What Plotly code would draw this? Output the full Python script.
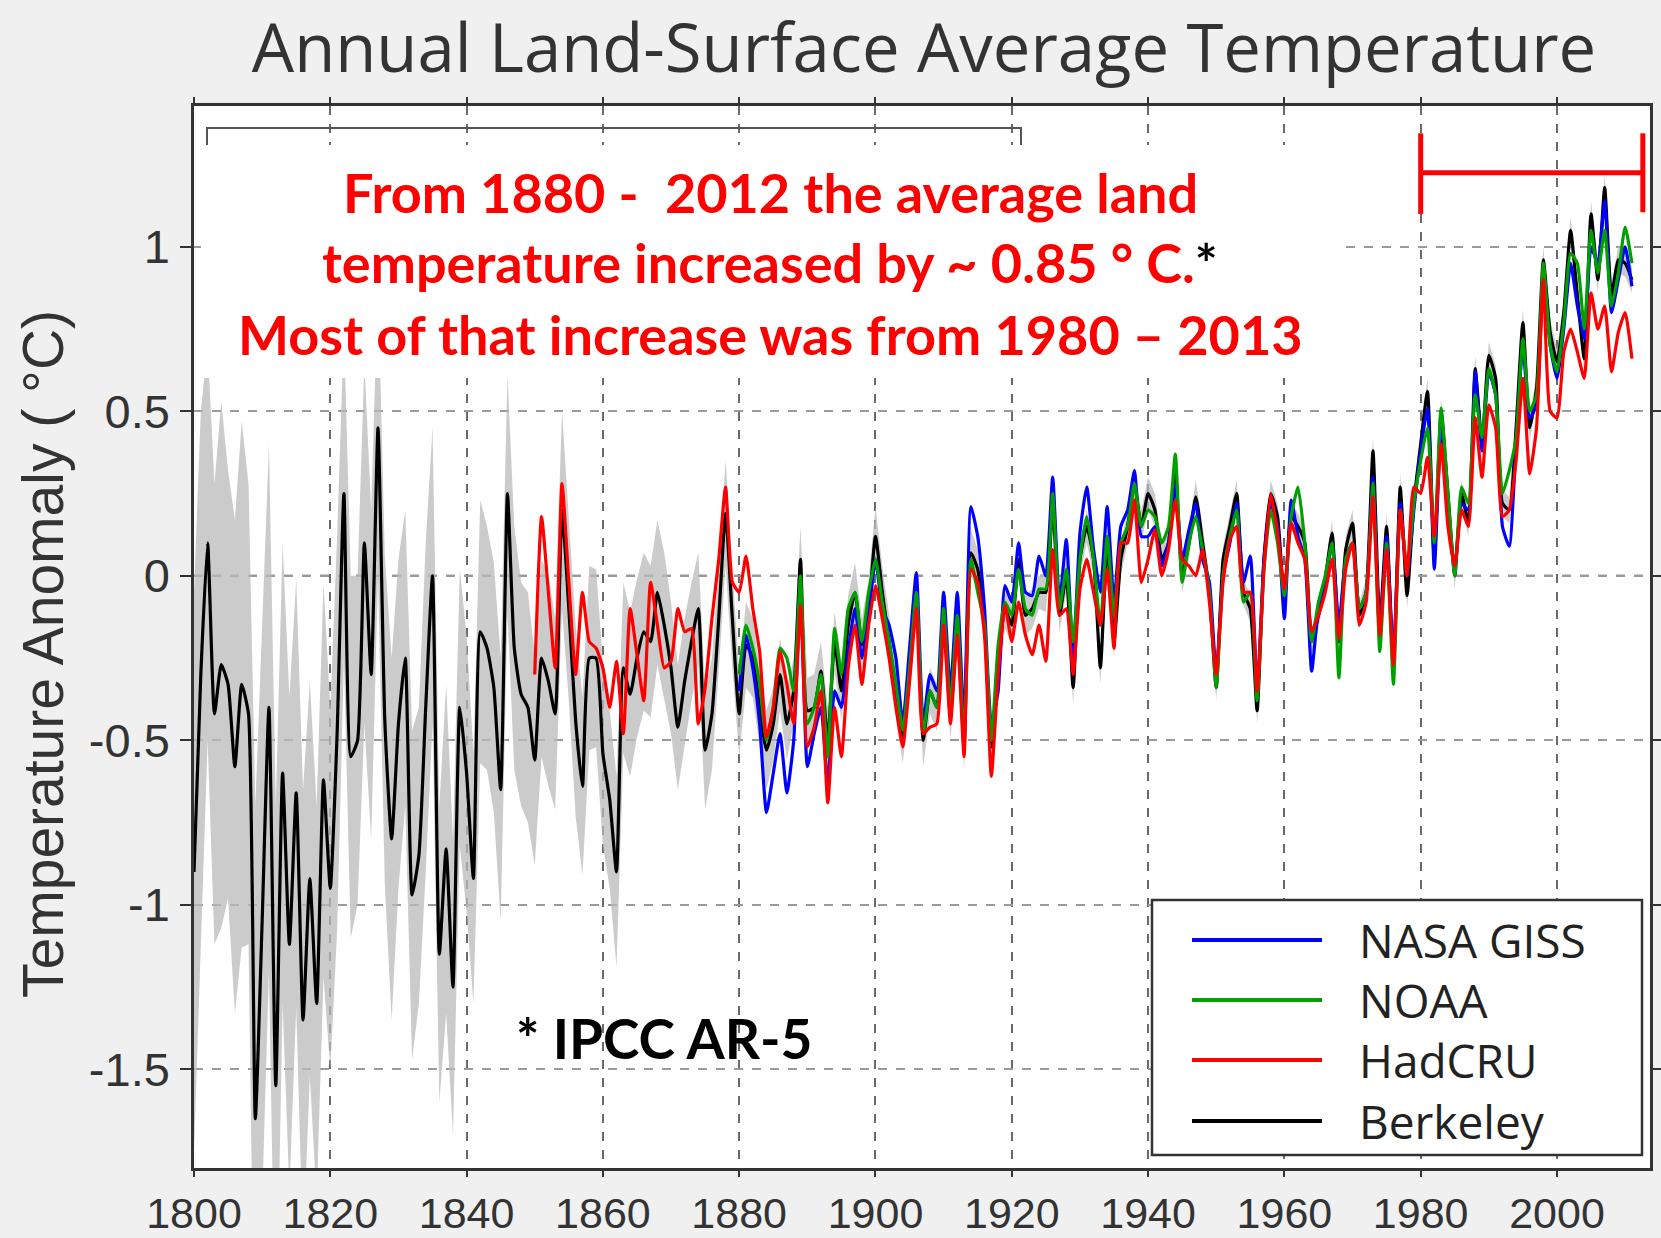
import plotly.graph_objects as go

# ---------------- data ----------------
berk_start = 1800
berkeley = [
    -0.90, -0.30, 0.10, -0.42, -0.27, -0.33, -0.58, -0.33, -0.42, -1.65,
    -1.05, -0.40, -1.55, -0.60, -1.12, -0.66, -1.35, -0.92, -1.30, -0.62,
    -0.95, -0.48, 0.25, -0.55, -0.50, 0.10, -0.30, 0.45, -0.44, -0.80,
    -0.45, -0.25, -0.97, -0.85, -0.40, 0.00, -1.15, -0.83, -1.25, -0.40,
    -0.60, -0.92, -0.17, -0.22, -0.34, -0.65, 0.25, -0.22, -0.36, -0.40,
    -0.56, -0.25, -0.32, -0.42, 0.20, -0.10, -0.44, -0.64, -0.25, -0.25,
    -0.54, -0.68, -0.90, -0.28, -0.36, -0.25, -0.17, -0.20, -0.05, -0.15,
    -0.28, -0.46, -0.32, -0.20, -0.10, -0.53, -0.42, -0.13, 0.19, -0.13,
    -0.42, -0.21, -0.25, -0.40, -0.53, -0.45, -0.30, -0.45, -0.35, 0.05,
    -0.41, -0.40, -0.29, -0.50, -0.20, -0.35, -0.15, -0.05, -0.21, -0.10,
    0.12, -0.05, -0.20, -0.35, -0.49, -0.30, -0.06, -0.50, -0.35, -0.40,
    -0.13, -0.43, -0.15, -0.52, 0.07, 0.02, -0.15, -0.52, -0.30, -0.10,
    -0.15, 0.05, -0.12, -0.10, -0.05, -0.05, 0.22, -0.12, 0.00, -0.34,
    0.05, 0.15, 0.05, -0.28, 0.10, -0.20, 0.05, 0.15, 0.28, 0.15,
    0.25, 0.20, 0.05, 0.10, 0.32, 0.00, 0.10, 0.24, 0.10, -0.05,
    -0.34, 0.05, 0.15, 0.25, -0.05, -0.10, -0.41, 0.05, 0.25, 0.18,
    -0.08, 0.18, 0.15, 0.10, -0.20, -0.12, -0.01, 0.13, -0.20, 0.08,
    0.16, -0.12, -0.05, 0.38, -0.15, 0.15, -0.28, 0.27, -0.06, 0.22,
    0.40, 0.56, 0.05, 0.50, 0.25, 0.00, 0.25, 0.16, 0.63, 0.40,
    0.67, 0.60, 0.22, 0.20, 0.45, 0.77, 0.45, 0.57, 0.96, 0.74,
    0.65, 0.80, 1.05, 0.85, 0.66, 1.10, 0.90, 1.18, 0.85, 0.96,
    0.95, 0.90,
]
berkeley_unc = [
    0.85, 0.80, 0.60, 0.70, 0.80, 0.65, 0.75, 0.80, 0.70, 0.95,
    0.90, 0.80, 0.85, 0.70, 0.75, 0.65, 0.70, 0.60, 0.60, 0.60,
    0.55, 0.60, 0.50, 0.55, 0.50, 0.55, 0.50, 0.45, 0.50, 0.55,
    0.50, 0.45, 0.50, 0.45, 0.50, 0.45, 0.45, 0.50, 0.45, 0.42,
    0.42, 0.38, 0.40, 0.37, 0.38, 0.40, 0.36, 0.37, 0.34, 0.35,
    0.32, 0.30, 0.32, 0.29, 0.30, 0.28, 0.29, 0.27, 0.28, 0.27,
    0.28, 0.27, 0.29, 0.26, 0.25, 0.24, 0.24, 0.23, 0.22, 0.22,
    0.20, 0.19, 0.19, 0.18, 0.17, 0.18, 0.17, 0.16, 0.16, 0.15,
    0.13, 0.13, 0.12, 0.12, 0.12, 0.11, 0.11, 0.11, 0.10, 0.10,
    0.10, 0.10, 0.09, 0.10, 0.09, 0.09, 0.09, 0.09, 0.08, 0.09,
    0.09, 0.08, 0.08, 0.08, 0.08, 0.08, 0.07, 0.08, 0.07, 0.07,
    0.07, 0.07, 0.07, 0.07, 0.07, 0.06, 0.07, 0.06, 0.06, 0.06,
    0.06, 0.06, 0.06, 0.06, 0.05, 0.06, 0.05, 0.05, 0.05, 0.05,
    0.05, 0.05, 0.05, 0.05, 0.05, 0.05, 0.05, 0.05, 0.05, 0.05,
    0.05, 0.05, 0.05, 0.05, 0.05, 0.05, 0.05, 0.05, 0.05, 0.05,
    0.04, 0.04, 0.04, 0.04, 0.04, 0.04, 0.04, 0.04, 0.04, 0.04,
    0.04, 0.04, 0.04, 0.04, 0.04, 0.04, 0.04, 0.04, 0.04, 0.04,
    0.04, 0.04, 0.04, 0.04, 0.04, 0.04, 0.04, 0.04, 0.04, 0.04,
    0.04, 0.04, 0.04, 0.04, 0.04, 0.04, 0.04, 0.04, 0.04, 0.04,
    0.04, 0.04, 0.04, 0.04, 0.04, 0.04, 0.04, 0.04, 0.04, 0.04,
    0.04, 0.04, 0.04, 0.04, 0.04, 0.04, 0.04, 0.04, 0.04, 0.04,
    0.04, 0.04,
]

had_start = 1850
hadcru = [
    -0.30, 0.18, -0.05, -0.28, 0.28, -0.02, -0.30, -0.05, -0.20, -0.22,
    -0.28, -0.40, -0.26, -0.48, -0.10, -0.24, -0.38, -0.02, -0.15, -0.28,
    -0.26, -0.10, -0.17, -0.16, -0.45, -0.34, -0.13, 0.05, 0.27, -0.02,
    -0.05, 0.06, -0.10, -0.23, -0.49, -0.40, -0.23, -0.33, -0.45, -0.09,
    -0.52, -0.46, -0.35, -0.69, -0.40, -0.55, -0.28, -0.15, -0.33, -0.15,
    -0.03, -0.13, -0.25, -0.40, -0.52, -0.32, -0.10, -0.48, -0.46, -0.45,
    -0.15, -0.45, -0.18, -0.55, 0.02, -0.02, -0.18, -0.61, -0.30, -0.09,
    -0.20, -0.08, -0.18, -0.24, -0.15, -0.26, 0.08, -0.12, -0.10, -0.30,
    -0.04, 0.05, -0.05, -0.15, 0.02, -0.22, 0.10, 0.10, 0.23, -0.02,
    0.05, 0.14, 0.00, 0.08, 0.23, 0.05, 0.03, 0.00, 0.08, -0.08,
    -0.30, -0.02, 0.11, 0.15, -0.05, -0.05, -0.35, 0.02, 0.25, 0.13,
    -0.04, 0.16, 0.10, 0.05, -0.17, -0.12, -0.05, 0.05, -0.19, 0.02,
    0.10, -0.15, -0.08, 0.24, -0.18, 0.08, -0.27, 0.20, 0.00, 0.27,
    0.25, 0.36, 0.12, 0.40, 0.15, 0.03, 0.20, 0.15, 0.48, 0.30,
    0.52, 0.45, 0.18, 0.20, 0.35, 0.60, 0.31, 0.45, 0.90, 0.50,
    0.48, 0.68, 0.75, 0.68, 0.60, 0.86, 0.75, 0.82, 0.62, 0.74,
    0.80, 0.66,
]

giss_start = 1880
nasa_giss = [
    -0.35, -0.18, -0.28, -0.45, -0.72, -0.60, -0.48, -0.66, -0.50, -0.05,
    -0.58, -0.48, -0.40, -0.64, -0.35, -0.40, -0.23, -0.10, -0.25, -0.12,
    0.05, -0.10, -0.15, -0.25, -0.45, -0.22, 0.01, -0.45, -0.30, -0.35,
    -0.05, -0.35, -0.05, -0.45, 0.21, 0.12, -0.10, -0.45, -0.35, -0.03,
    -0.08, 0.10, -0.05, -0.06, 0.06, 0.00, 0.30, -0.08, 0.11, -0.25,
    0.13, 0.27, 0.08, -0.05, 0.21, -0.08, 0.15, 0.20, 0.32, 0.12,
    0.12, 0.15, 0.03, 0.10, 0.28, 0.05, 0.14, 0.22, 0.05, -0.02,
    -0.30, 0.00, 0.10, 0.22, -0.02, 0.06, -0.35, 0.05, 0.22, 0.15,
    -0.13, 0.23, 0.12, 0.05, -0.29, -0.10, -0.02, 0.10, -0.15, 0.05,
    0.10, -0.10, -0.05, 0.30, -0.18, 0.12, -0.25, 0.22, 0.00, 0.20,
    0.38, 0.51, 0.02, 0.45, 0.20, 0.02, 0.22, 0.20, 0.62, 0.38,
    0.62, 0.55, 0.15, 0.09, 0.40, 0.70, 0.48, 0.52, 0.92, 0.70,
    0.60, 0.75, 0.95, 0.82, 0.72, 1.00, 0.95, 1.14, 0.80, 0.90,
    1.00, 0.88,
]

noaa_start = 1880
noaa = [
    -0.30, -0.15, -0.22, -0.33, -0.50, -0.40, -0.22, -0.25, -0.35, 0.00,
    -0.45, -0.40, -0.30, -0.55, -0.16, -0.30, -0.10, -0.05, -0.20, -0.05,
    0.05, -0.08, -0.20, -0.33, -0.47, -0.28, -0.05, -0.48, -0.35, -0.40,
    -0.10, -0.40, -0.12, -0.50, 0.05, -0.05, -0.15, -0.50, -0.21, -0.08,
    -0.12, 0.02, -0.10, -0.12, -0.04, -0.04, 0.25, -0.10, 0.02, -0.20,
    0.05, 0.18, 0.05, -0.15, 0.12, -0.12, 0.10, 0.15, 0.28, 0.15,
    0.20, 0.18, 0.10, 0.15, 0.37, -0.02, 0.10, 0.18, 0.08, -0.05,
    -0.34, 0.00, 0.12, 0.20, -0.08, -0.05, -0.38, 0.02, 0.20, 0.10,
    -0.06, 0.18, 0.27, 0.10, -0.20, -0.08, 0.00, 0.10, -0.31, 0.05,
    0.10, -0.10, -0.05, 0.28, -0.23, 0.10, -0.33, 0.20, 0.02, 0.22,
    0.35, 0.45, 0.10, 0.51, 0.25, 0.00, 0.27, 0.22, 0.55, 0.42,
    0.63, 0.55, 0.25, 0.32, 0.42, 0.72, 0.50, 0.55, 0.95, 0.70,
    0.62, 0.77, 0.98, 0.95, 0.75, 1.05, 0.92, 1.05, 0.82, 0.92,
    1.06, 0.95,
]

series_names = ["NASA GISS", "NOAA", "HadCRU", "Berkeley"]
series_colors = ["#0000ff", "#00a000", "#ff0000", "#000000"]

x_tickvals = [1800, 1820, 1840, 1860, 1880, 1900, 1920, 1940, 1960, 1980, 2000]
x_ticktext = ["1800", "1820", "1840", "1860", "1880", "1900", "1920", "1940", "1960", "1980", "2000"]
y_tickvals = [-1.5, -1.0, -0.5, 0.0, 0.5, 1.0]
y_ticktext = ["-1.5", "-1", "-0.5", "0", "0.5", "1"]

title_text = "Annual Land-Surface Average Temperature"
ylabel_text = "Temperature Anomaly ( \u00b0C)"
note_lines = [
    "From 1880 -\u00a0 2012 the average land",
    "temperature increased by ~ 0.85 \u00b0 C.<span style='color:#000000'>*</span>",
    "Most of that increase was from 1980 \u2013 2013",
]
source_note = "* IPCC AR-5"
bracket_years = [1980, 2012.6]

# ---------------- figure ----------------
W, H = 1661, 1238
L, R, T, B = 194, 11, 106, 70
PW, PH = W - L - R, H - T - B


def px(xp):
    return (xp - L) / PW


def py(yp):
    return (H - B - yp) / PH


def years(start, n):
    return list(range(start, start + n))


fig = go.Figure()

by = years(berk_start, len(berkeley))
upper = [v + u for v, u in zip(berkeley, berkeley_unc)]
lower = [v - u for v, u in zip(berkeley, berkeley_unc)]
fig.add_trace(go.Scatter(
    x=by + by[::-1], y=upper + lower[::-1], fill="toself",
    fillcolor="rgba(185,185,185,0.75)", line=dict(width=0),
    hoverinfo="skip", showlegend=False, name="Berkeley uncertainty"))

line_style = dict(width=3.2, shape="spline", smoothing=0.5)
fig.add_trace(go.Scatter(x=by, y=berkeley, mode="lines", name=series_names[3],
                         line=dict(color=series_colors[3], **line_style), showlegend=False))
fig.add_trace(go.Scatter(x=years(giss_start, len(nasa_giss)), y=nasa_giss, mode="lines",
                         name=series_names[0], line=dict(color=series_colors[0], **line_style),
                         showlegend=False))
fig.add_trace(go.Scatter(x=years(noaa_start, len(noaa)), y=noaa, mode="lines",
                         name=series_names[1], line=dict(color=series_colors[1], **line_style),
                         showlegend=False))
fig.add_trace(go.Scatter(x=years(had_start, len(hadcru)), y=hadcru, mode="lines",
                         name=series_names[2], line=dict(color=series_colors[2], **line_style),
                         showlegend=False))

xtick_font = dict(family="Liberation Sans, Arial, sans-serif", size=43, color="#333333")
ytick_font = dict(family="Liberation Sans, Arial, sans-serif", size=47, color="#333333")
fig.update_xaxes(
    range=[1800, 2013.65], tickmode="array", tickvals=x_tickvals, ticktext=x_ticktext,
    showgrid=True, gridcolor="#6a6a6a", gridwidth=1.5, griddash="dash",
    showline=True, linecolor="#333333", linewidth=2.5, mirror="ticks",
    ticks="outside", ticklen=6, tickwidth=2, tickcolor="#333333",
    tickfont=xtick_font, zeroline=False, automargin=False, ticklabelstandoff=0)
fig.update_yaxes(
    range=[-1.80, 1.428], tickmode="array", tickvals=y_tickvals, ticktext=y_ticktext,
    showgrid=True, gridcolor="#9a9a9a", gridwidth=1.5, griddash="dash",
    showline=True, linecolor="#333333", linewidth=2.5, mirror="ticks",
    ticks="outside", ticklen=11, tickwidth=2, tickcolor="#333333",
    tickfont=ytick_font, zeroline=False, automargin=False, ticklabelstandoff=1)

shapes = []
shapes.append(dict(type="line", xref="paper", yref="y", x0=0, x1=1, y0=0, y1=0,
                   line=dict(color="#404040", width=2.2, dash="dash"), layer="below"))
shapes.append(dict(type="rect", xref="paper", yref="paper",
                   x0=px(207), x1=px(1021), y0=py(160), y1=py(128),
                   line=dict(color="#555555", width=2), fillcolor="rgba(0,0,0,0)", layer="above"))
shapes.append(dict(type="rect", xref="paper", yref="paper",
                   x0=px(201), x1=px(1340), y0=py(378), y1=py(145),
                   line=dict(width=0), fillcolor="#ffffff", layer="above"))
bx0, bx1 = bracket_years
shapes.append(dict(type="line", xref="x", yref="y", x0=bx0, x1=bx1, y0=1.225, y1=1.225,
                   line=dict(color="#ff0000", width=5), layer="above"))
shapes.append(dict(type="line", xref="x", yref="y", x0=bx0, x1=bx0, y0=1.10, y1=1.345,
                   line=dict(color="#ff0000", width=5), layer="above"))
shapes.append(dict(type="line", xref="x", yref="y", x0=bx1, x1=bx1, y0=1.105, y1=1.345,
                   line=dict(color="#ff0000", width=5), layer="above"))
shapes.append(dict(type="rect", xref="paper", yref="paper",
                   x0=px(1152), x1=px(1642), y0=py(1155), y1=py(900),
                   line=dict(color="#333333", width=2.5), fillcolor="#ffffff", layer="above"))
legend_rows = [940, 1000, 1060, 1121]
for name, color, ry in zip(series_names, series_colors, legend_rows):
    shapes.append(dict(type="line", xref="paper", yref="paper",
                       x0=px(1192), x1=px(1322), y0=py(ry), y1=py(ry),
                       line=dict(color=color, width=4), layer="above"))

annotations = []
note_font = dict(family="Lato, Open Sans, sans-serif", size=54, color="#ff0000")
for line, yp in zip(note_lines, [193, 262, 334]):
    annotations.append(dict(text="<b>" + line + "</b>", xref="paper", yref="paper",
                            x=px(770), y=py(yp), xanchor="center", yanchor="middle",
                            showarrow=False, font=note_font))
annotations.append(dict(text="<b>" + source_note + "</b>", xref="paper", yref="paper",
                        x=px(664), y=py(1038), xanchor="center", yanchor="middle",
                        showarrow=False, font=dict(note_font, size=55, color="#000000")))
annotations.append(dict(text=ylabel_text, xref="paper", yref="paper", x=px(43), y=py(654),
                        xanchor="center", yanchor="middle", textangle=-90, showarrow=False,
                        font=dict(family="Liberation Sans, Arial, sans-serif", size=57,
                                  color="#333333")))
for name, ry in zip(series_names, legend_rows):
    annotations.append(dict(text=name, xref="paper", yref="paper", x=px(1357), y=py(ry),
                            xanchor="left", yanchor="middle", showarrow=False,
                            font=dict(family="Open Sans, sans-serif", size=46, color="#222222")))

fig.update_layout(
    template="none",
    width=W, height=H,
    margin=dict(l=L, r=R, t=T, b=B, pad=0),
    paper_bgcolor="#f0f0f0", plot_bgcolor="#ffffff",
    showlegend=False,
    title=dict(text=title_text, xref="container", yref="container",
               x=924 / W, y=1 - 49 / H, xanchor="center", yanchor="middle",
               font=dict(family="Open Sans, sans-serif", size=67, color="#333333")),
    shapes=shapes, annotations=annotations,
)

fig.write_html("out.html")
